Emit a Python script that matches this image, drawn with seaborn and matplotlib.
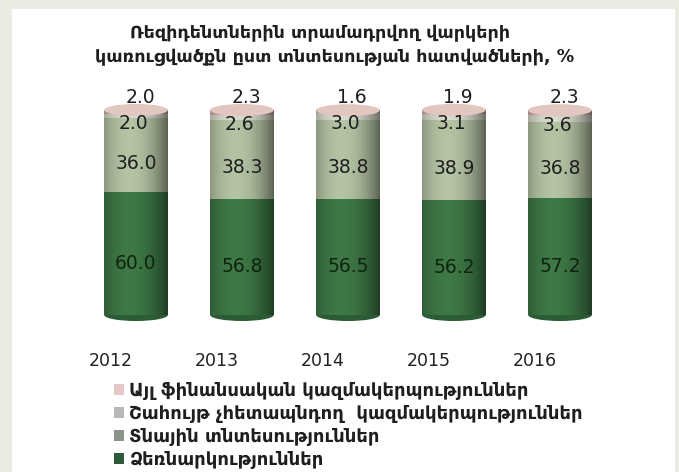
import numpy as np
import pandas as pd
import matplotlib
matplotlib.use("Agg")
import matplotlib.pyplot as plt
import seaborn as sns
from matplotlib.patches import Ellipse, Rectangle, Patch
from matplotlib.transforms import ScaledTranslation

# ---------------- data ----------------
years = ["2012", "2013", "2014", "2015", "2016"]
enterprises = [60.0, 56.8, 56.5, 56.2, 57.2]
households = [36.0, 38.3, 38.8, 38.9, 36.8]
nonprofit = [2.0, 2.6, 3.0, 3.1, 3.6]
other_fin = [2.0, 2.3, 1.6, 1.9, 2.3]

series_names = [
    "Այլ ֆինանսական կազմակերպություններ",
    "Շահույթ չհետապնդող  կազմակերպություններ",
    "Տնային տնտեսություններ",
    "Ձեռնարկություններ",
]
title_lines = [
    "Ռեզիդենտներին տրամադրվող վարկերի",
    "կառուցվածքն ըստ տնտեսության հատվածների, %",
]

# ---------------- style ----------------
sns.set_theme(style="white")
plt.rcParams["font.family"] = ["DejaVu Sans"]

bar_colors = {"other": "#d4b0aa", "npo": "#d8dbcc", "hh": "#b4c3a4", "ent": "#3d7846"}
legend_colors = ["#e6c8c8", "#b7b7b7", "#8b9589", "#2f5a3a"]
text_color = "#1e1e1e"

fig = plt.figure(figsize=(6.79, 4.72), dpi=100)
fig.patch.set_facecolor("#ecebe2")
fig.add_artist(Rectangle((12 / 679, 0), (675 - 12) / 679, (472 - 9) / 472,
                         transform=fig.transFigure, facecolor="white",
                         edgecolor="none", zorder=0))

ax = fig.add_axes([83 / 679, (472 - 315) / 472, 530 / 679, 205 / 472])
ax.set_facecolor("none")

df = pd.DataFrame({
    "year": years,
    "ent": enterprises,
    "hh": households,
    "npo": nonprofit,
    "other": other_fin,
})
df["top_ent"] = df["ent"]
df["top_hh"] = df["top_ent"] + df["hh"]
df["top_npo"] = df["top_hh"] + df["npo"]
df["top_other"] = df["top_npo"] + df["other"]

layers = [("top_other", "other"), ("top_npo", "npo"), ("top_hh", "hh"), ("top_ent", "ent")]
for col, key in layers:
    sns.barplot(data=df, x="year", y=col, color=bar_colors[key], order=years,
                width=0.6, saturation=1, ax=ax, zorder=2, linewidth=0)

ax.set_ylim(0, 100)
ax.set_xlim(-0.5, 4.5)

# cylinder shading, caps
full_bars = ax.patches[:len(years)]
t = np.linspace(0, 1, 128)
d = t - 0.4
alpha = 0.5 * (np.abs(d) / 0.6) ** 2
shade = np.zeros((1, t.size, 4))
shade[..., 3] = alpha
cap_h = 12 / 2.05
for p in full_bars:
    x0, w, h = p.get_x(), p.get_width(), p.get_height()
    im = ax.imshow(shade, extent=(x0, x0 + w, 0, h), aspect="auto",
                   zorder=3, interpolation="bilinear")
    im.set_clip_path(p)
    ax.add_patch(Ellipse((x0 + w / 2, 0), w, cap_h, facecolor="#2c5c35",
                         edgecolor="none", zorder=1, clip_on=False))
    ax.add_patch(Ellipse((x0 + w / 2, h), w, cap_h, facecolor="#e2c6c0",
                         edgecolor="none", zorder=4, clip_on=False))
ax.set_xlim(-0.5, 4.5)
ax.set_ylim(0, 100)

# value labels
lab_kw = dict(textcoords="offset points", ha="center", va="center",
              fontsize=13.5, zorder=6)
for i in range(len(years)):
    ax.annotate(f"{df['ent'][i]:.1f}", (i, df["ent"][i] / 2), xytext=(0, -7),
                color="#10240f", **lab_kw)
    ax.annotate(f"{df['hh'][i]:.1f}", (i, df["top_ent"][i] + df["hh"][i] / 2),
                xytext=(0, -6), color=text_color, **lab_kw)
    ax.annotate(f"{df['npo'][i]:.1f}", (i, df["top_hh"][i] + df["npo"][i] / 2),
                xytext=(-2, -5), color=text_color, **lab_kw)
    ax.annotate(f"{df['other'][i]:.1f}", (i, df["top_other"][i]),
                xytext=(3, 9), color=text_color, annotation_clip=False, **lab_kw)

# axes cosmetics
sns.despine(ax=ax, left=True, bottom=True)
ax.set_xlabel("")
ax.set_ylabel("")
ax.set_yticks([])
ax.tick_params(axis="x", length=0, pad=27, labelsize=12.5, labelcolor="#222222")
for lbl in ax.get_xticklabels():
    lbl.set_transform(lbl.get_transform() + ScaledTranslation(-25 / 100, 0, fig.dpi_scale_trans))

# title
fig.text(320 / 679, 1 - 33 / 472, title_lines[0], ha="center", va="center",
         fontsize=12.6, fontweight="bold", color="#1e1e1e")
fig.text(335 / 679, 1 - 57 / 472, title_lines[1], ha="center", va="center",
         fontsize=12.6, fontweight="bold", color="#1e1e1e")

# legend
handles = [Patch(facecolor=c, edgecolor="none", label=n)
           for c, n in zip(legend_colors, series_names)]
fig.legend(handles=handles, loc="upper left",
           bbox_to_anchor=(114 / 679, 1 - 382 / 472), frameon=False,
           prop={"size": 13, "weight": "bold"}, handlelength=0.55,
           handleheight=0.55, handletextpad=0.3, labelspacing=0.28,
           borderpad=0, borderaxespad=0, labelcolor="#1e1e1e")

fig.savefig("out.png", dpi=100, facecolor=fig.get_facecolor())
